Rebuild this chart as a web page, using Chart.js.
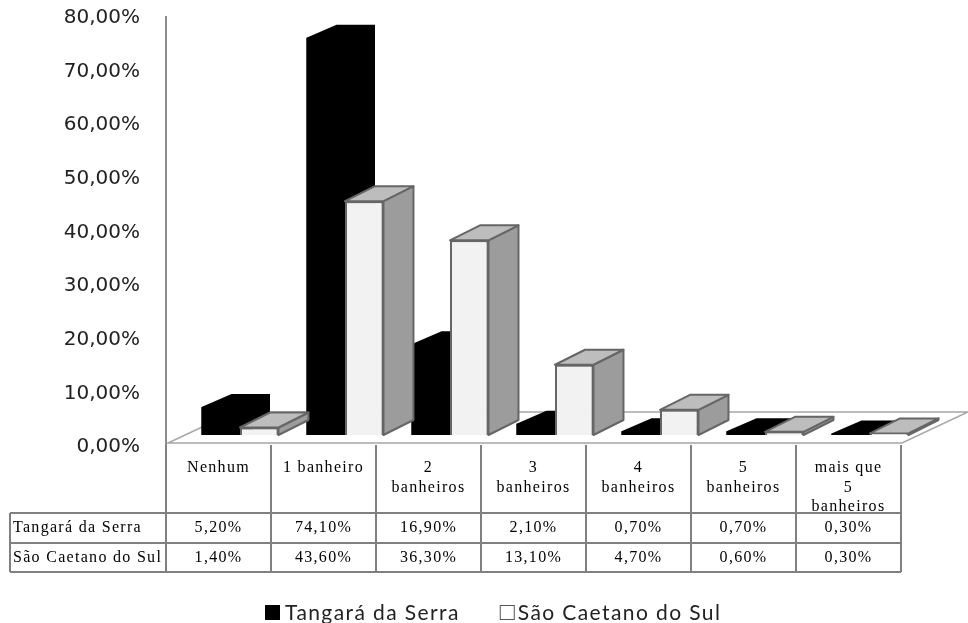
<!DOCTYPE html>
<html>
<head>
<meta charset="utf-8">
<script src="https://cdn.jsdelivr.net/npm/chart.js@4/dist/chart.umd.min.js"></script>
<style>
    html, body { margin: 0; padding: 0; background: #fff; }
    canvas { display: block; }
</style>
</head>
<body>
<canvas id="banheirosChart" width="968" height="623"></canvas>
<script>
// categories and series
const categories = [["Nenhum"], ["1 banheiro"], ["2", "banheiros"], ["3", "banheiros"], ["4", "banheiros"], ["5", "banheiros"], ["mais que", "5", "banheiros"]];
const seriesNames = ["Tangará da Serra", "São Caetano do Sul"];
const tangara = [5.2, 74.1, 16.9, 2.1, 0.7, 0.7, 0.3];
const saoCaetano = [1.4, 43.6, 36.3, 13.1, 4.7, 0.6, 0.3];
const yMin = 0;
const yMax = 80;
const yStep = 10;

const TABLE_SHIFT = 21.5;   // table/floor sit a bit left of the bars
const DEPTH_X = 30;
const DEPTH_Y_BLACK = -13;
const DEPTH_Y_WHITE = -15;

function fmtPct(v) {
    return v.toFixed(2).replace(".", ",") + "%";
}

function barBox(el) {
    const p = el.getProps(["x", "y", "base", "width"], true);
    return { x0: p.x - p.width / 2, x1: p.x + p.width / 2, top: p.y, base: p.base };
}

function poly(ctx, pts, fill, stroke, lw) {
    ctx.beginPath();
    ctx.moveTo(pts[0][0], pts[0][1]);
    for (let i = 1; i < pts.length; i++) ctx.lineTo(pts[i][0], pts[i][1]);
    ctx.closePath();
    if (fill) { ctx.fillStyle = fill; ctx.fill(); }
    if (stroke) { ctx.strokeStyle = stroke; ctx.lineWidth = lw || 1; ctx.stroke(); }
}

const bars3d = {
    id: "bars3d",
    beforeDatasetsDraw(chart) {
        const ctx = chart.ctx;
        const xs = chart.scales.x;
        const ys = chart.scales.y;
        const catW = xs.width / categories.length;
        const left = xs.left - TABLE_SHIFT;
        const zeroY = ys.getPixelForValue(0);

        ctx.save();
        // floor
        const fy = zeroY + 8;
        const fx0 = left + 2;
        const fx1 = left + catW * categories.length + 1;
        poly(ctx, [[fx0, fy], [fx1, fy], [fx1 + 66, fy - 31], [fx0 + 66, fy - 31]], "#fff", "#a6a6a6", 1.5);

        // axis line
        ctx.strokeStyle = "#8c8c8c";
        ctx.lineWidth = 2;
        ctx.beginPath();
        ctx.moveTo(left, ys.getPixelForValue(yMax) + 10);
        ctx.lineTo(left, zeroY + 12);
        ctx.stroke();

        // black bars: top and side in black, front drawn by Chart.js
        chart.getDatasetMeta(0).data.forEach((el) => {
            const b = barBox(el);
            const dx = DEPTH_X, dy = DEPTH_Y_BLACK;
            poly(ctx, [[b.x0, b.top], [b.x0 + dx, b.top + dy], [b.x1 + dx, b.top + dy],
                [b.x1 + dx, b.base + dy], [b.x1, b.base], [b.x0, b.base]], "#000");
        });
        ctx.restore();
    },
    afterDatasetsDraw(chart) {
        const ctx = chart.ctx;
        ctx.save();
        ctx.lineJoin = "round";
        chart.getDatasetMeta(1).data.forEach((el) => {
            const b = barBox(el);
            const dx = DEPTH_X, dy = DEPTH_Y_WHITE;
            poly(ctx, [[b.x1, b.top], [b.x1 + dx, b.top + dy], [b.x1 + dx, b.base + dy], [b.x1, b.base]], "#9c9c9c", "#666", 2);
            poly(ctx, [[b.x0, b.top], [b.x0 + dx, b.top + dy], [b.x1 + dx, b.top + dy], [b.x1, b.top]], "#bdbdbd", "#666", 2);
            el.draw(ctx);
        });
        ctx.restore();
    },
    afterDraw(chart) {
        const ctx = chart.ctx;
        const xs = chart.scales.x;
        const ys = chart.scales.y;
        const catW = xs.width / categories.length;
        const left = xs.left - TABLE_SHIFT;
        const right = left + catW * categories.length;
        const top = ys.getPixelForValue(0) + 8;
        const rowA = 513, rowB = 543, rowC = 572;

        ctx.save();
        // table grid
        ctx.strokeStyle = "#808080";
        ctx.lineWidth = 2;
        ctx.beginPath();
        for (let i = 0; i <= categories.length; i++) {
            const lx = left + catW * i;
            ctx.moveTo(lx, top + 2);
            ctx.lineTo(lx, rowC);
        }
        [rowA, rowB, rowC].forEach((ry) => {
            ctx.moveTo(10, ry);
            ctx.lineTo(right, ry);
        });
        ctx.moveTo(10, rowA);
        ctx.lineTo(10, rowC);
        ctx.stroke();

        // table text
        ctx.fillStyle = "#000";
        ctx.font = "16px 'Liberation Serif'";
        ctx.letterSpacing = "1.3px";
        ctx.textBaseline = "middle";
        ctx.textAlign = "center";
        categories.forEach((lines, i) => {
            const cx = left + catW * (i + 0.5);
            lines.forEach((ln, j) => ctx.fillText(ln, cx, 468 + j * 19.5));
            ctx.fillText(fmtPct(tangara[i]), cx, (rowA + rowB) / 2);
            ctx.fillText(fmtPct(saoCaetano[i]), cx, (rowB + rowC) / 2);
        });
        ctx.textAlign = "left";
        ctx.fillText(seriesNames[0], 13, (rowA + rowB) / 2);
        ctx.fillText(seriesNames[1], 13, (rowB + rowC) / 2);

        // legend
        ctx.letterSpacing = "1.4px";
        ctx.font = "21px Lato";
        ctx.textBaseline = "alphabetic";
        let lx = 265;
        ctx.fillStyle = "#000";
        ctx.fillRect(lx, 605, 15, 15);
        ctx.fillStyle = "#222";
        ctx.fillText(seriesNames[0], lx + 20, 620);
        lx += 20 + ctx.measureText(seriesNames[0]).width + 40;
        ctx.strokeStyle = "#555";
        ctx.lineWidth = 1;
        ctx.strokeRect(lx + 0.5, 605.5, 14, 14);
        ctx.fillText(seriesNames[1], lx + 18, 620);
        ctx.restore();
    }
};

const ctx = document.getElementById("banheirosChart").getContext("2d");

new Chart(ctx, {
    type: "bar",
    data: {
        labels: categories,
        datasets: [{
            label: seriesNames[0],
            data: tangara,
            backgroundColor: "#000",
            borderWidth: 0
        }, {
            label: seriesNames[1],
            data: saoCaetano,
            backgroundColor: "#f2f2f2",
            borderColor: "#666",
            borderWidth: 2
        }]
    },
    options: {
        responsive: false,
        animation: false,
        devicePixelRatio: 1,
        layout: {
            padding: { left: 0, top: 6, right: 45.5, bottom: 188 }
        },
        datasets: {
            bar: { categoryPercentage: 0.733, barPercentage: 1 }
        },
        scales: {
            x: { display: false },
            y: {
                min: yMin,
                max: yMax,
                grid: { display: false, drawTicks: false },
                border: { display: false },
                ticks: {
                    stepSize: yStep,
                    padding: 47.5,
                    labelOffset: 12,
                    color: "#222",
                    font: { family: "'DejaVu Sans'", size: 20 },
                    callback: (v) => fmtPct(v)
                },
                afterFit: (scale) => {
                    scale.width = 187.5;
                    scale.paddingTop = 0;
                    scale.paddingBottom = 0;
                }
            }
        },
        plugins: {
            legend: { display: false },
            tooltip: { enabled: false }
        }
    },
    plugins: [bars3d]
});
</script>
</body>
</html>
